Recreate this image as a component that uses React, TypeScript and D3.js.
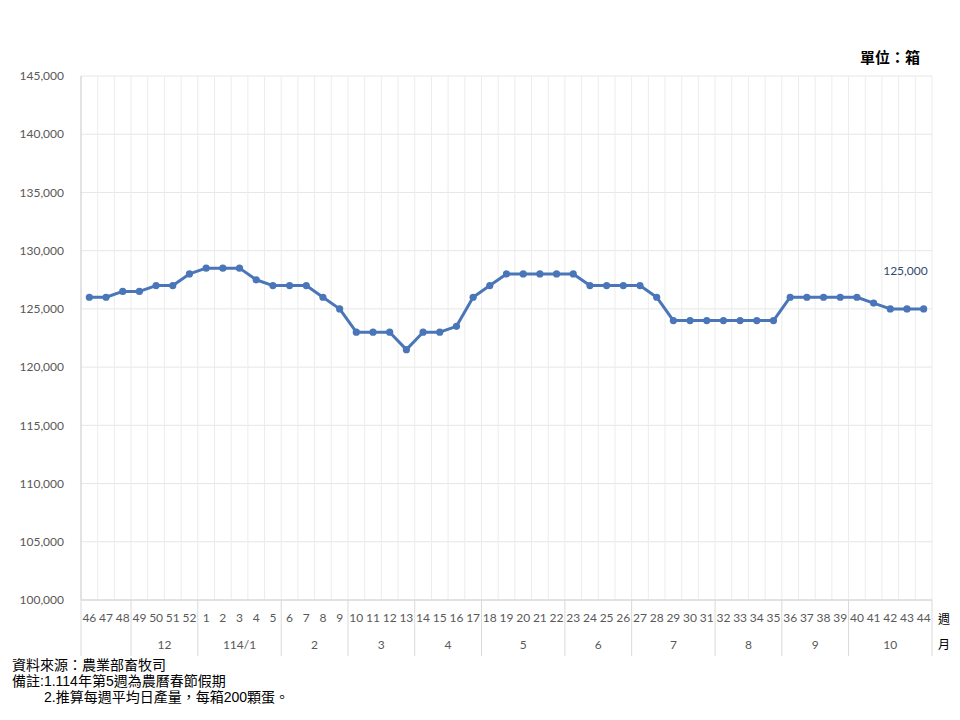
import React from "react";
import * as d3 from "d3";

const weeks = ["46","47","48","49","50","51","52","1","2","3","4","5","6","7","8","9","10","11","12","13","14","15","16","17","18","19","20","21","22","23","24","25","26","27","28","29","30","31","32","33","34","35","36","37","38","39","40","41","42","43","44"];
const values = [126000,126000,126500,126500,127000,127000,128000,128500,128500,128500,127500,127000,127000,127000,126000,125000,123000,123000,123000,121500,123000,123000,123500,126000,127000,128000,128000,128000,128000,128000,127000,127000,127000,127000,126000,124000,124000,124000,124000,124000,124000,124000,126000,126000,126000,126000,126000,125500,125000,125000,125000];
const monthLabels = ["", "12", "114/1", "2", "3", "4", "5", "6", "7", "8", "9", "10"];
const monthSpans = [3, 4, 5, 4, 4, 4, 5, 4, 5, 4, 4, 5];
const yTicks = [100000,105000,110000,115000,120000,125000,130000,135000,140000,145000];
const notes = ["資料來源：農業部畜牧司", "備註:1.114年第5週為農曆春節假期", "2.推算每週平均日產量，每箱200顆蛋。"];

export default function App() {
  const W = 960, H = 720;
  const left = 81, right = 932, top = 76, bottom = 600;
  const x = d3.scaleBand<number>().domain(d3.range(weeks.length)).range([left, right]).padding(0);
  const y = d3.scaleLinear().domain([100000, 145000]).range([bottom, top]);
  const bw = x.bandwidth();
  const line = d3.line<number>().x((_, i) => (x(i) as number) + bw / 2).y(d => y(d));
  const font = "Lato, 'Noto Sans', sans-serif";
  const cjk = "'Noto Sans CJK TC', 'Noto Sans', sans-serif";
  const noteFont = "'Liberation Sans', 'Noto Sans CJK TC', sans-serif";

  let acc = 0;
  const groups = monthSpans.map((s, k) => {
    const start = acc; acc += s;
    return { start, end: acc, label: monthLabels[k] };
  });
  const xEdge = (i: number) => i >= weeks.length ? right : (x(i) as number);

  const lastI = values.length - 1;
  return (
    <svg width={W} height={H} style={{ position: "absolute", left: 0, top: 0, background: "#fff" }}>
      <rect width={W} height={H} fill="#fff" />
      {yTicks.map(t => (
        <line key={"h" + t} x1={left} x2={right} y1={y(t)} y2={y(t)} stroke="#e6e6e6" strokeWidth={1} />
      ))}
      {d3.range(weeks.length + 1).map(i => (
        <line key={"v" + i} x1={xEdge(i)} x2={xEdge(i)} y1={top} y2={bottom} stroke="#ececec" strokeWidth={1} />
      ))}
      <line x1={left} x2={left} y1={top} y2={bottom} stroke="#d0d0d0" />
      <line x1={left} x2={right} y1={bottom} y2={bottom} stroke="#d0d0d0" />
      {[0, ...groups.map(g => g.end)].map((e, k) => (
        <line key={"s" + k} x1={xEdge(e)} x2={xEdge(e)} y1={bottom} y2={656} stroke="#d9d9d9" />
      ))}
      {yTicks.map(t => (
        <text key={"yl" + t} x={64} y={y(t)} dy="0.35em" textAnchor="end" fontSize={12} fill="#595959" fontFamily={font}>
          {d3.format(",")(t)}
        </text>
      ))}
      {weeks.map((w, i) => (
        <text key={"w" + i} x={(x(i) as number) + bw / 2} y={618} dy="0.35em" textAnchor="middle" fontSize={12} fill="#595959" fontFamily={font}>
          {w}
        </text>
      ))}
      {groups.map((g, k) => (
        <text key={"m" + k} x={(xEdge(g.start) + xEdge(g.end)) / 2} y={645} dy="0.35em" textAnchor="middle" fontSize={12} fill="#595959" fontFamily={font}>
          {g.label}
        </text>
      ))}
      <text x={944} y={620} dy="0.35em" textAnchor="middle" fontSize={12} fill="#000" fontFamily={cjk}>週</text>
      <text x={944} y={645} dy="0.35em" textAnchor="middle" fontSize={12} fill="#000" fontFamily={cjk}>月</text>
      <path d={line(values) || ""} fill="none" stroke="#4a76b9" strokeWidth={3} strokeLinejoin="round" />
      {values.map((v, i) => (
        <circle key={"c" + i} cx={(x(i) as number) + bw / 2} cy={y(v)} r={3.6} fill="#4a76b9" />
      ))}
      <text x={(x(lastI) as number) + bw / 2 + 4} y={271} dy="0.35em" textAnchor="end" fontSize={12} fill="#2f4a6e" fontFamily={font}>
        {d3.format(",")(values[lastI])}
      </text>
      <text x={920} y={58} dy="0.35em" textAnchor="end" fontSize={15} fontWeight="bold" fill="#000" fontFamily={cjk}>單位：箱</text>
      <text fontSize={14} fill="#000" fontFamily={noteFont}>
        <tspan x={12} y={670}>{notes[0]}</tspan>
        <tspan x={12} y={686}>{notes[1]}</tspan>
        <tspan x={44} y={702}>{notes[2]}</tspan>
      </text>
    </svg>
  );
}
